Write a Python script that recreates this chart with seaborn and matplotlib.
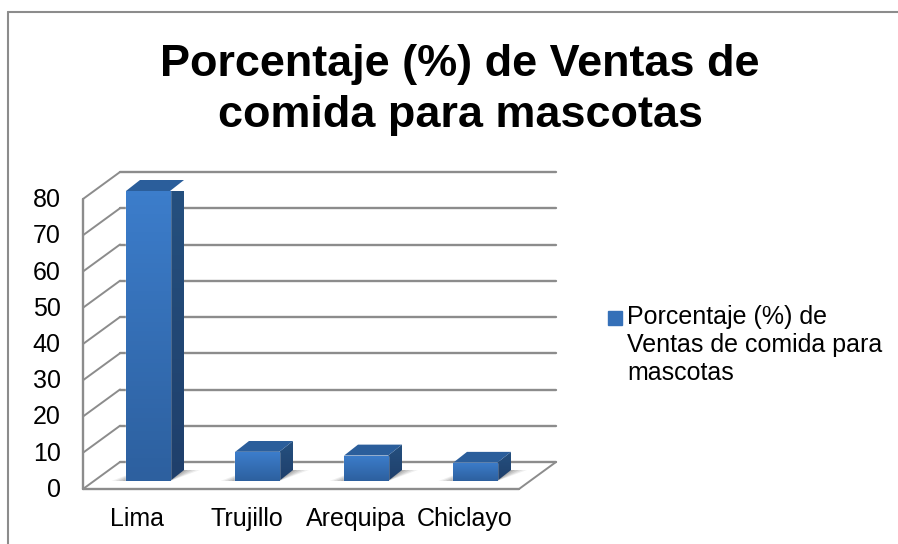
import numpy as np
import matplotlib
matplotlib.use('Agg')
import matplotlib.pyplot as plt
from matplotlib.colors import LinearSegmentedColormap
from matplotlib.legend_handler import HandlerPatch
from matplotlib.lines import Line2D
from matplotlib.patches import Patch, Polygon, Rectangle
from matplotlib.transforms import Bbox, BboxTransformTo, ScaledTranslation
import pandas as pd
import seaborn as sns

title = 'Porcentaje (%) de Ventas de\ncomida para mascotas'
series_name = 'Porcentaje (%) de\nVentas de comida para\nmascotas'
cities = ['Lima', 'Trujillo', 'Arequipa', 'Chiclayo']
values = [80, 8, 7, 5]
y_ticks = [0, 10, 20, 30, 40, 50, 60, 70, 80]

W, H = 898, 544
sns.set_theme(style='white')
plt.rcParams['font.family'] = ['Liberation Sans', 'DejaVu Sans']

fig = plt.figure(figsize=(W / 100, H / 100), dpi=100, facecolor='white')

# chart frame, only left and top show in the picture
frame_x, frame_y = 7.5 / W, 1 - 11.5 / H
fig.add_artist(Line2D([frame_x, frame_x], [0, frame_y], transform=fig.transFigure, color='#8c8c8c', lw=1.5))
fig.add_artist(Line2D([frame_x, 1], [frame_y, frame_y], transform=fig.transFigure, color='#8c8c8c', lw=1.5))


def box(x0, y0, x1, y1):
    return [x0 / W, 1 - y1 / H, (x1 - x0) / W, (y1 - y0) / H]


# front wall: x 83-519 px, y 199-489 px
ax = fig.add_axes(box(83, 199, 519, 489))
ax.set_xlim(-0.5, 3.5)
ax.set_ylim(0, 80)
ax.patch.set_alpha(0)
for s in ax.spines.values():
    s.set_visible(False)

# bars stand a bit inside the floor, so they get their own shifted axes
ax_bar = fig.add_axes(box(93.5, 191, 529.5, 481), sharey=ax)
ax_bar.patch.set_alpha(0)
ax_bar.axis('off')

df = pd.DataFrame({'ciudad': cities, 'valor': values})
sns.barplot(data=df, x='ciudad', y='valor', color='#3a7ac8', width=0.404, saturation=1, ax=ax_bar)
ax_bar.set_xlim(-0.5, 3.5)
ax_bar.set_ylim(0, 80)

# walls and gridlines in pixel offsets from the front wall
grid_c = '#8c8c8c'
DX, DY = 37, 27
back = ax.transData + ScaledTranslation(DX / 100, DY / 100, fig.dpi_scale_trans)
for t in y_ticks:
    ax.plot([-0.5, 3.5], [t, t], transform=back, color=grid_c, lw=1.7, zorder=1, clip_on=False)
    p0 = ax.transData.transform((-0.5, t))
    p1 = back.transform((-0.5, t))
    ax.plot([p0[0], p1[0]], [p0[1], p1[1]], transform=None, color=grid_c, lw=1.4, zorder=1, clip_on=False)
p0 = ax.transData.transform((3.5, 0))
p1 = back.transform((3.5, 0))
ax.plot([p0[0], p1[0]], [p0[1], p1[1]], transform=None, color=grid_c, lw=1.4, clip_on=False)
ax.plot([-0.5, -0.5], [0, 80], color=grid_c, lw=1.7, clip_on=False)
ax.plot([-0.5, 3.5], [0, 0], color=grid_c, lw=1.7, clip_on=False)

ax.set_yticks(y_ticks)
ax.set_xticks(range(len(cities)))
ax.set_xticklabels(cities)
ax.tick_params(axis='y', length=0, pad=16, labelsize=18, colors='black')
ax.tick_params(axis='x', length=0, pad=13, labelsize=18, colors='black')
ax.set_xlabel('')
ax.set_ylabel('')
for lab in ax.get_yticklabels():
    lab.set_transform(lab.get_transform() + ScaledTranslation(0, 1.5 / 100, fig.dpi_scale_trans))

# gradient on front faces, side and top faces from each bar
front_cm = LinearSegmentedColormap.from_list('front', ['#2d609f', '#3c7dcb'])
side_cm = LinearSegmentedColormap.from_list('side', ['#1f3f6b', '#25507f'])
d_x, d_y = 14, 11
T = ax_bar.transData
for bar in ax_bar.patches:
    x0, x1 = bar.get_x(), bar.get_x() + bar.get_width()
    top = bar.get_height()
    (px0, py0), (px1, py1) = T.transform([(x0, 0), (x1, top)])

    # soft shadow on the floor
    for k, a in zip([16, 12, 8, 4, 1], [0.1, 0.14, 0.18, 0.22, 0.25]):
        ax_bar.add_patch(Polygon([(px0 - k * 0.9, py0), (px1, py0), (px1 + d_x + k, py0 + d_y),
                                  (px0 + d_x, py0 + d_y)],
                                 closed=True, transform=None, fc='#707070', ec='none', alpha=a, zorder=1,
                                 clip_on=False))

    side = Polygon([(px1, py0), (px1 + d_x, py0 + d_y), (px1 + d_x, py1 + d_y), (px1, py1)], closed=True,
                   transform=None, fc='none', ec='none', zorder=3, clip_on=False)
    ax_bar.add_patch(side)
    im = ax_bar.imshow(np.linspace(1, 0, 64).reshape(-1, 1), cmap=side_cm, aspect='auto', zorder=3,
                       extent=(0, 1, 0, 1))
    im.set_transform(BboxTransformTo(Bbox([[px1, py0], [px1 + d_x, py1 + d_y]])))
    im.set_clip_box(None)
    im.set_clip_path(side)

    ax_bar.add_patch(Polygon([(px0, py1), (px1, py1), (px1 + d_x, py1 + d_y), (px0 + d_x, py1 + d_y)], closed=True,
                             transform=None, fc='#2b5e9b', ec='none', zorder=3, clip_on=False))

    im = ax_bar.imshow(np.linspace(1, 0, 64).reshape(-1, 1), cmap=front_cm, aspect='auto', zorder=4,
                       extent=(x0, x1, 0, top))
    bar.set_zorder(4)
    im.set_clip_path(bar)
ax_bar.set_xlim(-0.5, 3.5)
ax_bar.set_ylim(0, 80)

fig.text(460 / W, 1 - 90 / H, title, ha='center', va='center', fontsize=32.4, fontweight='bold', color='black',
         linespacing=1.33)


# legend swatch sits next to the first text line
def first_line_swatch(legend, orig_handle, xdescent, ydescent, width, height, fontsize):
    return Rectangle((-xdescent, -ydescent + 21), 10, 10)


swatch = Patch(color='#3570b8', label=series_name)
leg = fig.legend(handles=[swatch], loc='upper left', bbox_to_anchor=(608 / W, 1 - 305 / H), frameon=False,
                 fontsize=18, handlelength=0.56, handleheight=0.7, handletextpad=0.2, labelspacing=0,
                 borderpad=0, borderaxespad=0, labelcolor='black',
                 handler_map={swatch: HandlerPatch(patch_func=first_line_swatch)})

fig.savefig('out.png', dpi=100)
